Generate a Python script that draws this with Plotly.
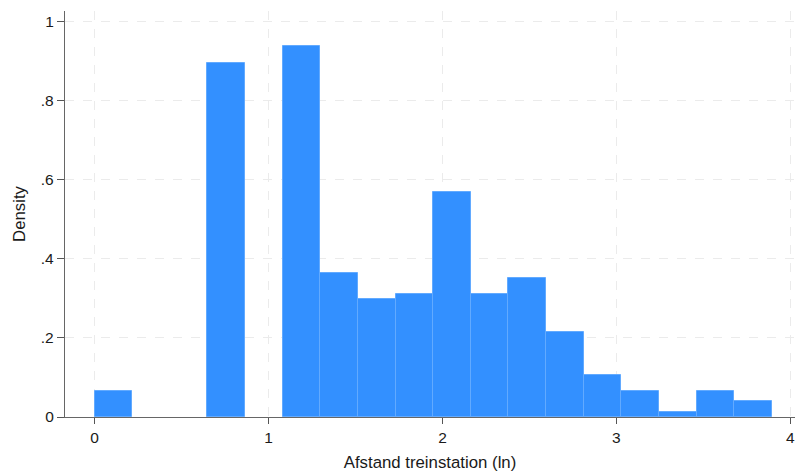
import plotly.graph_objects as go

# Histogram of log distance to the train station (density scale)
bin_start = 0.0
bin_width = 0.2163
density = [0.066, 0.0, 0.0, 0.895, 0.0, 0.937, 0.365, 0.297, 0.311,
           0.568, 0.311, 0.351, 0.216, 0.107, 0.066, 0.013, 0.066, 0.040]

x_ticks = [0, 1, 2, 3, 4]
y_ticks = [0, 0.2, 0.4, 0.6, 0.8, 1.0]
y_tick_labels = ["0", ".2", ".4", ".6", ".8", "1"]

centers = [bin_start + (i + 0.5) * bin_width for i in range(len(density))]
# empty bins are left out so no outline is drawn along the axis
heights = [d if d > 0 else None for d in density]

fig = go.Figure(
    go.Bar(
        x=centers,
        y=heights,
        width=bin_width,
        marker=dict(color="rgb(51,144,255)",
                    line=dict(color="rgb(98,170,255)", width=1)),
        hoverinfo="x+y",
    )
)

axis_font = dict(family="Liberation Sans, Arial, sans-serif", size=15.5, color="#1a1a1a")
title_font = dict(family="Liberation Sans, Arial, sans-serif", size=16.8, color="#1a1a1a")

fig.update_layout(
    width=795,
    height=472,
    margin=dict(l=65, r=0, t=11, b=55),
    paper_bgcolor="white",
    plot_bgcolor="white",
    showlegend=False,
    bargap=0,
    xaxis=dict(
        range=[-0.17, 4.027],
        tickmode="array",
        tickvals=x_ticks,
        ticktext=[str(t) for t in x_ticks],
        ticks="outside",
        ticklen=6,
        tickcolor="#555555",
        showline=True,
        linecolor="#666666",
        linewidth=1.3,
        showgrid=True,
        gridcolor="#ebebeb",
        griddash="dash",
        gridwidth=1,
        zeroline=False,
        tickfont=axis_font,
        title=dict(text="Afstand treinstation (ln)", font=title_font, standoff=11),
    ),
    yaxis=dict(
        range=[0, 1.026],
        tickmode="array",
        tickvals=y_ticks,
        ticktext=y_tick_labels,
        ticks="outside",
        ticklen=7,
        tickcolor="#555555",
        showline=True,
        linecolor="#666666",
        linewidth=1.3,
        showgrid=True,
        gridcolor="#ebebeb",
        griddash="dash",
        gridwidth=1,
        zeroline=False,
        tickfont=axis_font,
        title=dict(text="Density", font=title_font, standoff=10),
    ),
)

fig.write_html("out.html")
